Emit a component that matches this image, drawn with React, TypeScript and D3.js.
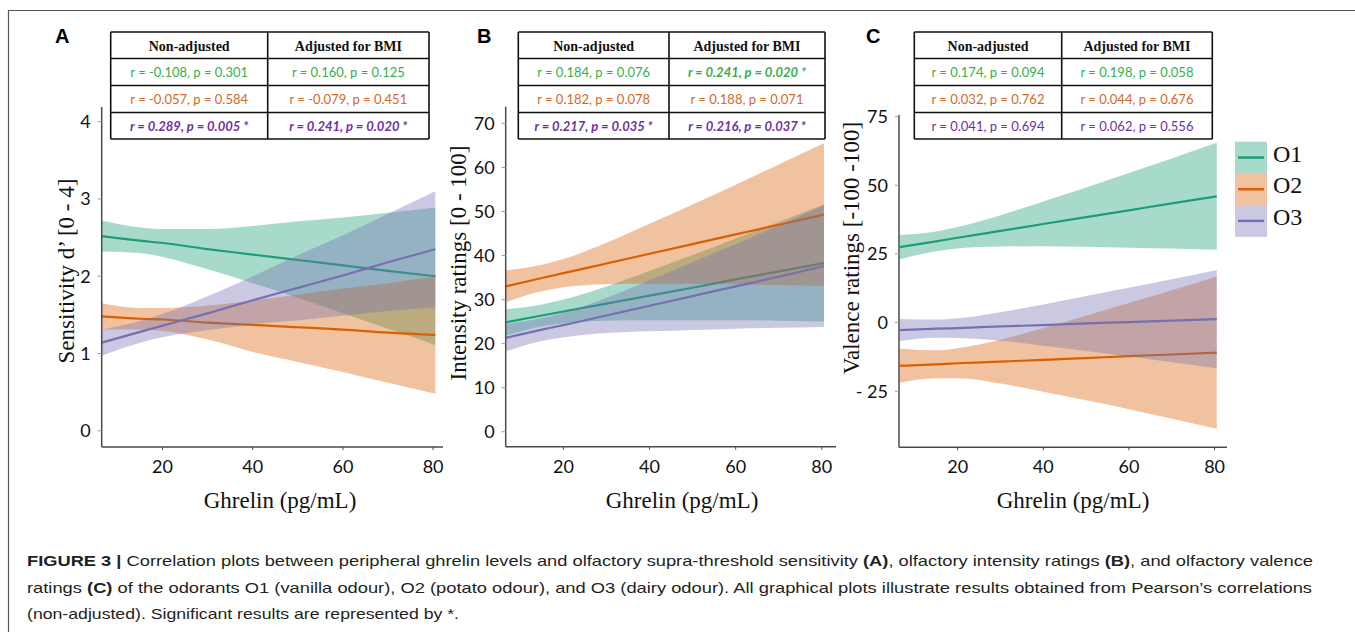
import React from "react";
import * as d3 from "d3";

// shared x grid (ghrelin, pg/mL) where the fitted line and its band were read
const ghrelin = [6.5, 15, 20, 30, 40, 50, 60, 70, 80.5];
const odorants = ["O1", "O2", "O3"];
const lineColors = ["#1b9e77", "#d95f02", "#7570b3"];
const textColors = ["#34b04b", "#d2692a", "#7030a0"];

// A - sensitivity d'
const sensFit = [
  [2.52, 2.46, 2.43, 2.35, 2.28, 2.21, 2.14, 2.07, 2.0],
  [1.48, 1.45, 1.44, 1.4, 1.37, 1.34, 1.31, 1.27, 1.24],
  [1.14, 1.28, 1.36, 1.52, 1.69, 1.85, 2.01, 2.18, 2.35],
];
const sensLo = [
  [2.32, 2.3, 2.25, 2.09, 1.91, 1.72, 1.52, 1.32, 1.11],
  [1.31, 1.31, 1.29, 1.18, 1.02, 0.89, 0.76, 0.62, 0.48],
  [0.97, 1.14, 1.21, 1.3, 1.38, 1.43, 1.49, 1.55, 1.6],
];
const sensHi = [
  [2.72, 2.63, 2.61, 2.61, 2.65, 2.71, 2.76, 2.82, 2.89],
  [1.65, 1.59, 1.59, 1.62, 1.69, 1.76, 1.84, 1.91, 2.0],
  [1.31, 1.42, 1.51, 1.74, 2.0, 2.27, 2.53, 2.81, 3.1],
];

// B - intensity ratings
const intFit = [
  [24.8, 26.4, 27.3, 29.1, 30.9, 32.7, 34.6, 36.4, 38.3],
  [33.0, 34.9, 36.0, 38.2, 40.4, 42.6, 44.8, 47.0, 49.3],
  [21.3, 23.2, 24.2, 26.4, 28.6, 30.8, 33.0, 35.2, 37.6],
];
const intLo = [
  [21.8, 23.9, 24.6, 25.2, 25.3, 25.3, 25.3, 25.2, 25.0],
  [29.4, 31.9, 32.8, 33.5, 33.6, 33.6, 33.5, 33.3, 33.1],
  [18.2, 20.6, 21.4, 22.4, 22.8, 23.1, 23.4, 23.6, 23.8],
];
const intHi = [
  [27.8, 28.9, 30.0, 33.0, 36.5, 40.1, 43.9, 47.6, 51.6],
  [36.6, 37.9, 39.2, 42.9, 47.2, 51.6, 56.1, 60.7, 65.5],
  [24.4, 25.8, 27.0, 30.4, 34.4, 38.5, 42.6, 46.8, 51.4],
];

// C - valence ratings
const valFit = [
  [27.5, 29.6, 30.9, 33.4, 35.9, 38.4, 40.9, 43.4, 46.0],
  [-15.7, -15.2, -14.8, -14.2, -13.6, -12.9, -12.2, -11.6, -10.9],
  [-2.7, -2.2, -2.0, -1.4, -0.9, -0.3, 0.2, 0.7, 1.3],
];
const valLo = [
  [23.1, 26.0, 27.0, 27.7, 27.8, 27.6, 27.3, 27.0, 26.5],
  [-21.9, -20.3, -20.3, -22.2, -25.2, -28.3, -31.5, -35.0, -38.6],
  [-6.7, -5.5, -5.6, -6.6, -8.4, -10.3, -12.3, -14.4, -16.6],
];
const valHi = [
  [31.9, 33.2, 34.8, 39.1, 44.1, 49.2, 54.5, 59.8, 65.5],
  [-9.5, -10.1, -9.3, -6.2, -2.0, 2.5, 7.1, 11.8, 16.8],
  [1.3, 1.1, 1.6, 3.8, 6.6, 9.7, 12.7, 15.8, 19.2],
];

const tableHeader = ["Non-adjusted", "Adjusted for BMI"];
const sensTable = [
  ["r = -0.108, p = 0.301", "r = 0.160, p = 0.125"],
  ["r = -0.057, p = 0.584", "r = -0.079, p = 0.451"],
  ["r = 0.289, p = 0.005 *", "r = 0.241, p = 0.020 *"],
];
const sensSig = [[false, false], [false, false], [true, true]];
const intTable = [
  ["r = 0.184, p = 0.076", "r = 0.241, p = 0.020 *"],
  ["r = 0.182, p = 0.078", "r = 0.188, p = 0.071"],
  ["r = 0.217, p = 0.035 *", "r = 0.216, p = 0.037 *"],
];
const intSig = [[false, true], [false, false], [true, true]];
const valTable = [
  ["r = 0.174, p = 0.094", "r = 0.198, p = 0.058"],
  ["r = 0.032, p = 0.762", "r = 0.044, p = 0.676"],
  ["r = 0.041, p = 0.694", "r = 0.062, p = 0.556"],
];
const valSig = [[false, false], [false, false], [false, false]];

const xTicks = [20, 40, 60, 80];
const sensTicks = [0, 1, 2, 3, 4];
const intTicks = [0, 10, 20, 30, 40, 50, 60, 70];
const valTicks = [-25, 0, 25, 50, 75];

const serif = "'Liberation Serif', 'Times New Roman', serif";
const sans = "Lato, 'Open Sans', sans-serif";
const rowY = [32, 58.5, 85.5, 112.5, 139];

type PanelProps = {
  letter: string;
  letterX: number;
  xDomain: [number, number];
  xRange: [number, number];
  yDomain: [number, number];
  yRange: [number, number];
  yTicks: number[];
  yFmt: (v: number) => string;
  yTitle: string;
  yTitleX: number;
  yTitleY: number;
  xTitleX: number;
  fit: number[][];
  lo: number[][];
  hi: number[][];
  table: string[][];
  sig: boolean[][];
  cols: [number, number, number];
};

const Panel: React.FC<PanelProps> = (p) => {
  const x = d3.scaleLinear().domain(p.xDomain).range(p.xRange);
  const y = d3.scaleLinear().domain(p.yDomain).range(p.yRange);
  const x0 = p.xRange[0];
  const yb = p.yRange[0];

  return (
    <g>
      <text x={p.letterX} y={43} fontFamily="'Liberation Sans', Arial, sans-serif" fontWeight="bold" fontSize={20}>
        {p.letter}
      </text>

      {p.fit.map((f, s) => {
        const area = d3
          .area<number>()
          .x((_, i) => x(ghrelin[i]))
          .y0((_, i) => y(p.lo[s][i]))
          .y1((_, i) => y(p.hi[s][i]))
          .curve(d3.curveMonotoneX);
        const line = d3
          .line<number>()
          .x((_, i) => x(ghrelin[i]))
          .y((d) => y(d))
          .curve(d3.curveMonotoneX);
        return (
          <g key={s}>
            <path d={area(f) || ""} fill={lineColors[s]} fillOpacity={0.38} />
            <path d={line(f) || ""} fill="none" stroke={lineColors[s]} strokeWidth={2.2} />
          </g>
        );
      })}

      {/* axes */}
      <line x1={x0} x2={x0} y1={p.yRange[1]} y2={yb} stroke="#4a4a4a" strokeWidth={1.5} />
      <line x1={x0} x2={p.xRange[1]} y1={yb} y2={yb} stroke="#4a4a4a" strokeWidth={1.5} />
      {p.yTicks.map((t) => (
        <g key={t}>
          <line x1={x0 - 4} x2={x0} y1={y(t)} y2={y(t)} stroke="#9a9a9a" strokeWidth={1} />
          <text x={x0 - 11} y={y(t)} dy="0.36em" textAnchor="end" fontFamily={sans} fontSize={18} fill="#111">
            {p.yFmt(t)}
          </text>
        </g>
      ))}
      {xTicks.map((t) => (
        <g key={t}>
          <line x1={x(t)} x2={x(t)} y1={yb} y2={yb + 3} stroke="#4a4a4a" strokeWidth={1} />
          <text x={x(t)} y={472.5} textAnchor="middle" fontFamily={sans} fontSize={18} fill="#111">
            {t}
          </text>
        </g>
      ))}
      <text
        transform={`translate(${p.yTitleX},${p.yTitleY}) rotate(-90)`}
        textAnchor="middle"
        fontFamily={serif}
        fontSize={23}
        fill="#111"
      >
        {p.yTitle}
      </text>
      <text x={p.xTitleX} y={508} textAnchor="middle" fontFamily={serif} fontSize={23} fill="#111">
        Ghrelin (pg/mL)
      </text>

      {/* correlation table */}
      <rect x={p.cols[0]} y={rowY[0]} width={p.cols[2] - p.cols[0]} height={rowY[4] - rowY[0]} fill="#fff" />
      {rowY.map((ry) => (
        <line key={ry} x1={p.cols[0]} x2={p.cols[2]} y1={ry} y2={ry} stroke="#111" strokeWidth={1.6} />
      ))}
      {p.cols.map((cx) => (
        <line key={cx} x1={cx} x2={cx} y1={rowY[0]} y2={rowY[4]} stroke="#111" strokeWidth={1.6} />
      ))}
      {tableHeader.map((h, c) => (
        <text
          key={h}
          x={(p.cols[c] + p.cols[c + 1]) / 2}
          y={rowY[0] + 18.5}
          textAnchor="middle"
          fontFamily={serif}
          fontWeight="bold"
          fontSize={14}
          fill="#111"
        >
          {h}
        </text>
      ))}
      {p.table.map((row, r) =>
        row.map((cell, c) => (
          <text
            key={`${r}-${c}`}
            x={(p.cols[c] + p.cols[c + 1]) / 2}
            y={rowY[r + 1] + 18}
            textAnchor="middle"
            fontFamily={sans}
            fontSize={13}
            fontWeight={p.sig[r][c] ? "bold" : "normal"}
            fontStyle={p.sig[r][c] ? "italic" : "normal"}
            fill={textColors[r]}
          >
            {cell}
          </text>
        ))
      )}
    </g>
  );
};

const App: React.FC = () => {
  const legendY = [141.7, 173.4, 205.1];
  return (
    <svg
      width={1355}
      height={632}
      style={{ position: "absolute", left: 0, top: 0, background: "#fff" }}
    >
      <rect width={1355} height={632} fill="#fff" />
      <line x1={8} x2={1355} y1={10.5} y2={10.5} stroke="#555" strokeWidth={1.2} />
      <line x1={8.5} x2={8.5} y1={10} y2={632} stroke="#555" strokeWidth={1.2} />

      <Panel
        letter="A"
        letterX={55}
        xDomain={[6.5, 82.2]}
        xRange={[101.7, 443]}
        yDomain={[-0.21, 4.19]}
        yRange={[447, 107]}
        yTicks={sensTicks}
        yFmt={(v) => `${v}`}
        yTitle="Sensitivity d’ [0 - 4]"
        yTitleX={74}
        yTitleY={271}
        xTitleX={280}
        fit={sensFit}
        lo={sensLo}
        hi={sensHi}
        table={sensTable}
        sig={sensSig}
        cols={[110.7, 267.7, 429]}
      />
      <Panel
        letter="B"
        letterX={477}
        xDomain={[6.6, 83.3]}
        xRange={[505.7, 836]}
        yDomain={[-3.4, 73.8]}
        yRange={[446.7, 106.7]}
        yTicks={intTicks}
        yFmt={(v) => `${v}`}
        yTitle="Intensity ratings [0 - 100]"
        yTitleX={466}
        yTitleY={263}
        xTitleX={682}
        fit={intFit}
        lo={intLo}
        hi={intHi}
        table={intTable}
        sig={intSig}
        cols={[518.3, 669, 825]}
      />
      <Panel
        letter="C"
        letterX={866}
        xDomain={[6.3, 82.9]}
        xRange={[899, 1227]}
        yDomain={[-45.4, 75.6]}
        yRange={[447.3, 115]}
        yTicks={valTicks}
        yFmt={(v) => (v < 0 ? `- ${-v}` : `${v}`)}
        yTitle="Valence ratings [-100 -100]"
        yTitleX={859}
        yTitleY={248}
        xTitleX={1073}
        fit={valFit}
        lo={valLo}
        hi={valHi}
        table={valTable}
        sig={valSig}
        cols={[914.3, 1061.7, 1212.3]}
      />

      {/* legend */}
      {odorants.map((o, i) => (
        <g key={o}>
          <rect x={1235} y={legendY[i]} width={32} height={31.7} fill={lineColors[i]} fillOpacity={0.38} />
          <line
            x1={1238}
            x2={1264}
            y1={legendY[i] + 15.8}
            y2={legendY[i] + 15.8}
            stroke={lineColors[i]}
            strokeWidth={2.5}
          />
          <text x={1273} y={legendY[i] + 20} fontFamily={serif} fontSize={24} fill="#111">
            {o}
          </text>
        </g>
      ))}

      {/* caption */}
      <g fontFamily="'Liberation Sans Narrow', 'Arial Narrow', 'Liberation Sans', sans-serif" fontSize={15} fill="#231f20">
        <text x={27} y={566} textLength={1286} lengthAdjust="spacingAndGlyphs">
          <tspan fontWeight="bold">FIGURE 3 | </tspan>
          Correlation plots between peripheral ghrelin levels and olfactory supra-threshold sensitivity{" "}
          <tspan fontWeight="bold">(A)</tspan>, olfactory intensity ratings <tspan fontWeight="bold">(B)</tspan>, and
          olfactory valence
        </text>
        <text x={27} y={592.5} textLength={1285} lengthAdjust="spacingAndGlyphs">
          ratings <tspan fontWeight="bold">(C)</tspan> of the odorants O1 (vanilla odour), O2 (potato odour), and O3
          (dairy odour). All graphical plots illustrate results obtained from Pearson’s correlations
        </text>
        <text x={27} y={619} textLength={432} lengthAdjust="spacingAndGlyphs">
          (non-adjusted). Significant results are represented by *.
        </text>
      </g>
    </svg>
  );
};

export default App;
